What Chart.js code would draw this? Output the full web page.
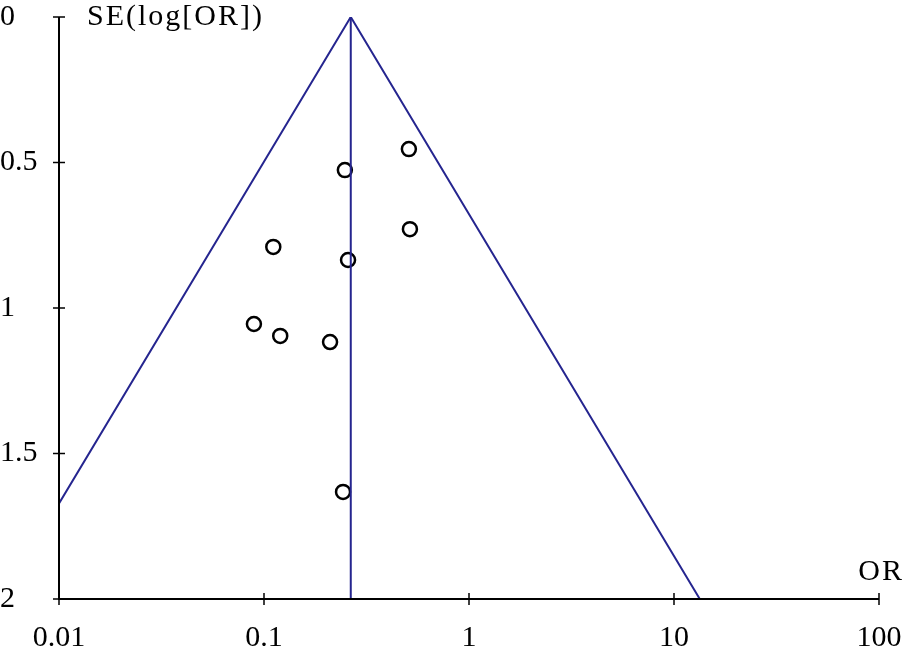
<!DOCTYPE html>
<html>
<head>
<meta charset="utf-8">
<script src="https://cdn.jsdelivr.net/npm/chart.js@4.4.1/dist/chart.umd.min.js"></script>
<style>
  html, body { margin: 0; padding: 0; background: #fff; }
  canvas { display: block; }
</style>
</head>
<body>
<canvas id="funnel" width="904" height="653"></canvas>
<script>
  // Study estimates: odds ratio and standard error of log(OR)
  const studyOR = [0.509, 0.248, 0.515, 0.111, 0.257, 0.0893, 0.120, 0.210, 0.243];
  const studySE = [0.454, 0.526, 0.729, 0.790, 0.835, 1.055, 1.096, 1.117, 1.632];

  // Funnel outline (pooled OR and 95% limits)
  const funnelOR = [0.01, 0.265, 13.36];
  const funnelSE = [1.672, 0, 2];
  const pooledOR = [0.265, 0.265];
  const pooledSE = [0, 2];

  const xTicks = [0.01, 0.1, 1, 10, 100];
  const xTickLabels = ['0.01', '0.1', '1', '10', '100'];
  const yTicks = [0, 0.5, 1, 1.5, 2];
  const yTickLabels = ['0', '0.5', '1', '1.5', '2'];

  const navy = '#25258f';
  const fontFamily = '"Liberation Serif", "DejaVu Serif", serif';
  const fontSize = 30;

  const toPoints = (xs, ys) => xs.map((x, i) => ({ x: x, y: ys[i] }));

  // Draws the axis lines, crossing tick marks and the two axis captions
  const axisDecor = {
    id: 'axisDecor',
    afterDraw(chart) {
      const ctx = chart.ctx;
      const xs = chart.scales.x;
      const ys = chart.scales.y;
      const area = chart.chartArea;
      ctx.save();
      ctx.strokeStyle = '#000';
      ctx.lineWidth = 2;
      ctx.beginPath();
      ctx.moveTo(area.left, area.top);
      ctx.lineTo(area.left, area.bottom);
      ctx.lineTo(area.right, area.bottom);
      ctx.stroke();
      ctx.lineWidth = 1.5;
      xTicks.forEach(v => {
        const px = xs.getPixelForValue(v);
        ctx.beginPath();
        ctx.moveTo(px, area.bottom - 6);
        ctx.lineTo(px, area.bottom + 6);
        ctx.stroke();
      });
      yTicks.forEach(v => {
        const py = ys.getPixelForValue(v);
        ctx.beginPath();
        ctx.moveTo(area.left - 6, py);
        ctx.lineTo(area.left + 6, py);
        ctx.stroke();
      });
      ctx.fillStyle = '#000';
      ctx.font = fontSize + 'px ' + fontFamily;
      ctx.letterSpacing = '2px';
      ctx.textBaseline = 'alphabetic';
      ctx.textAlign = 'left';
      ctx.fillText('SE(log[OR])', 87, 25);
      ctx.textAlign = 'right';
      ctx.fillText('OR', 904, 580);
      ctx.restore();
    }
  };

  new Chart(document.getElementById('funnel'), {
    type: 'scatter',
    data: {
      datasets: [
        {
          data: toPoints(funnelOR, funnelSE),
          showLine: true,
          borderColor: navy,
          borderWidth: 2,
          pointRadius: 0,
          fill: false
        },
        {
          data: toPoints(pooledOR, pooledSE),
          showLine: true,
          borderColor: navy,
          borderWidth: 2,
          pointRadius: 0,
          fill: false
        },
        {
          data: toPoints(studyOR, studySE),
          showLine: false,
          pointStyle: 'circle',
          pointRadius: 7,
          pointBorderWidth: 2.5,
          pointBorderColor: '#000',
          pointBackgroundColor: '#fff'
        }
      ]
    },
    options: {
      responsive: false,
      animation: false,
      devicePixelRatio: 1,
      layout: { padding: { top: 17, right: 0, left: 0, bottom: 0 } },
      plugins: {
        legend: { display: false },
        tooltip: { enabled: false }
      },
      scales: {
        x: {
          type: 'logarithmic',
          min: 0.01,
          max: 100,
          border: { display: false },
          grid: { display: false },
          afterBuildTicks(scale) {
            scale.ticks = xTicks.map(v => ({ value: v }));
          },
          afterFit(scale) {
            scale.height = 54;
            scale.paddingLeft = 0;
            scale.paddingRight = 25;
          },
          ticks: {
            color: '#000',
            padding: 13,
            maxRotation: 0,
            autoSkip: false,
            font: { family: fontFamily, size: fontSize },
            callback: (v, i) => xTickLabels[i]
          }
        },
        y: {
          type: 'linear',
          reverse: true,
          min: 0,
          max: 2,
          border: { display: false },
          grid: { display: false },
          afterBuildTicks(scale) {
            scale.ticks = yTicks.map(v => ({ value: v }));
          },
          afterFit(scale) {
            scale.width = 59;
            scale.paddingTop = 0;
            scale.paddingBottom = 0;
          },
          ticks: {
            color: '#000',
            crossAlign: 'far',
            padding: 0,
            autoSkip: false,
            font: { family: fontFamily, size: fontSize },
            callback: (v, i) => yTickLabels[i]
          }
        }
      }
    },
    plugins: [axisDecor]
  });
</script>
</body>
</html>
